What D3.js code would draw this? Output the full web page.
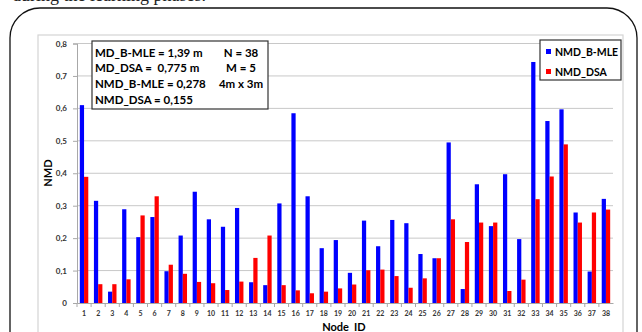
<!DOCTYPE html>
<html>
<head>
<meta charset="utf-8">
<script src="https://cdn.jsdelivr.net/npm/d3@7"></script>
<style>
  html, body { margin: 0; padding: 0; background: #fff; }
  svg { display: block; }
</style>
</head>
<body>
<figure id="chart" style="margin:0"></figure>
<script>
// node ids along the x axis
const nodes = ["1","2","3","4","5","6","7","8","9","10","11","12","13","14","15","16","17","18","19",
  "20","21","22","23","24","25","26","27","28","29","30","31","32","33","34","35","36","37","38"];

// NMD per node
const nmdBMLE = [0.610, 0.315, 0.035, 0.289, 0.203, 0.265, 0.098, 0.208, 0.343, 0.258,
  0.235, 0.293, 0.064, 0.055, 0.307, 0.585, 0.329, 0.169, 0.194, 0.093,
  0.254, 0.175, 0.256, 0.246, 0.151, 0.138, 0.495, 0.043, 0.366, 0.237,
  0.397, 0.197, 0.743, 0.561, 0.597, 0.279, 0.097, 0.321];
const nmdDSA = [0.389, 0.058, 0.058, 0.073, 0.270, 0.329, 0.118, 0.090, 0.065, 0.061,
  0.040, 0.066, 0.139, 0.208, 0.055, 0.039, 0.030, 0.035, 0.045, 0.057,
  0.101, 0.103, 0.083, 0.047, 0.076, 0.138, 0.258, 0.188, 0.248, 0.248,
  0.037, 0.072, 0.320, 0.390, 0.489, 0.248, 0.279, 0.288];

const seriesNames = ["NMD_B-MLE", "NMD_DSA"];
const seriesColors = ["#0000ff", "#ff0000"];
const yTicks = [0, 0.1, 0.2, 0.3, 0.4, 0.5, 0.6, 0.7, 0.8];

// text of the info box: left column, right column
const infoLeft = ["MD_B-MLE = 1,39 m", "MD_DSA =  0,775 m", "NMD_B-MLE = 0,278", "NMD_DSA = 0,155"];
const infoRight = ["N = 38", "M = 5", "4m x 3m"];

const width = 642, height = 332;
const plot = { left: 77, right: 613, top: 43.5, bottom: 303 };

const svg = d3.select("figure#chart")
  .append("svg")
  .attr("width", width)
  .attr("height", height);

// caption of the page above, cut off at the top edge
svg.append("text")
  .attr("x", 12).attr("y", 0.5)
  .style("font", "18px 'Liberation Serif', serif")
  .attr("fill", "#222")
  .text("during the learning phases.");

// rounded figure frame
svg.append("path")
  .attr("d", "M10,340 L10,38 A30,30 0 0 1 40,8 L607,8 A30,30 0 0 1 637,38 L637,340")
  .attr("fill", "none")
  .attr("stroke", "#111")
  .attr("stroke-width", 1.3);

// chart area border
svg.append("rect")
  .attr("x", 38).attr("y", 35)
  .attr("width", 585).attr("height", 400)
  .attr("fill", "none")
  .attr("stroke", "#d4d4d4")
  .attr("stroke-width", 1.2);

const y = d3.scaleLinear()
  .domain([0, 0.8])
  .range([plot.bottom, plot.top]);

const x = d3.scaleBand()
  .domain(nodes)
  .range([plot.left, plot.right])
  .paddingInner(0.4)
  .paddingOuter(0.2);

const xs = d3.scaleBand()
  .domain(seriesNames)
  .range([0, x.bandwidth()]);

// gridlines
svg.append("g")
  .selectAll("line")
  .data(yTicks.filter(d => d > 0))
  .enter()
  .append("line")
  .attr("x1", plot.left).attr("x2", plot.right)
  .attr("y1", d => y(d)).attr("y2", d => y(d))
  .attr("stroke", "#c8c8c8")
  .attr("stroke-width", 1);

// y axis
const yAxis = svg.append("g")
  .attr("transform", "translate(" + plot.left + ",0)")
  .call(d3.axisLeft(y)
    .tickValues(yTicks)
    .tickSize(4)
    .tickPadding(6)
    .tickFormat(d => d === 0 ? "0" : d3.format(".1f")(d).replace(".", ",")));
yAxis.select(".domain").attr("stroke", "#a8a8a8");
yAxis.selectAll(".tick line").attr("stroke", "#a8a8a8");
yAxis.selectAll("text")
  .style("font", "bold 8px Lato, sans-serif")
  .attr("fill", "#333");

// x axis, ticks between categories
const xAxis = svg.append("g")
  .attr("transform", "translate(0," + plot.bottom + ")")
  .call(d3.axisBottom(x).tickSize(0).tickPadding(8));
xAxis.select(".domain").attr("stroke", "#a8a8a8");
xAxis.selectAll("text")
  .style("font", "bold 7px Lato, sans-serif")
  .attr("fill", "#333");
svg.append("g")
  .selectAll("line")
  .data(nodes)
  .enter()
  .append("line")
  .attr("x1", d => x(d) - x.step() * x.paddingInner() / 2)
  .attr("x2", d => x(d) - x.step() * x.paddingInner() / 2)
  .attr("y1", plot.bottom).attr("y2", plot.bottom + 4)
  .attr("stroke", "#a8a8a8");

// bars
const rows = nodes.map((n, i) => ({ node: n, values: [nmdBMLE[i], nmdDSA[i]] }));
svg.append("g")
  .selectAll("g")
  .data(rows)
  .enter()
  .append("g")
  .attr("transform", d => "translate(" + x(d.node) + ",0)")
  .selectAll("rect")
  .data(d => d.values.map((v, k) => ({ key: seriesNames[k], value: v, color: seriesColors[k] })))
  .enter()
  .append("rect")
  .attr("x", d => xs(d.key))
  .attr("y", d => y(d.value))
  .attr("width", xs.bandwidth())
  .attr("height", d => plot.bottom - y(d.value))
  .attr("fill", d => d.color);

// axis titles
svg.append("text")
  .attr("transform", "translate(52,173) rotate(-90)")
  .attr("text-anchor", "middle")
  .style("font", "bold 11px Lato, sans-serif")
  .text("NMD");
svg.append("text")
  .attr("x", 344).attr("y", 331)
  .attr("text-anchor", "middle")
  .style("font", "bold 11px Lato, sans-serif")
  .text("Node_ID");

// info box
const info = svg.append("g");
info.append("rect")
  .attr("x", 92).attr("y", 41)
  .attr("width", 176).attr("height", 68)
  .attr("fill", "#fff")
  .attr("stroke", "#333")
  .attr("stroke-width", 1.2);
info.selectAll("text.l")
  .data(infoLeft)
  .enter()
  .append("text")
  .attr("x", 95)
  .attr("y", (d, i) => 56.5 + i * 15.9)
  .style("font", "bold 11.5px Lato, sans-serif")
  .attr("xml:space", "preserve")
  .text(d => d);
info.selectAll("text.r")
  .data(infoRight)
  .enter()
  .append("text")
  .attr("x", 241)
  .attr("y", (d, i) => 56.5 + i * 15.9)
  .attr("text-anchor", "middle")
  .style("font", "bold 11.5px Lato, sans-serif")
  .text(d => d);

// legend
const legend = svg.append("g");
legend.append("rect")
  .attr("x", 540).attr("y", 40)
  .attr("width", 81).attr("height", 40)
  .attr("fill", "#fff")
  .attr("stroke", "#333")
  .attr("stroke-width", 1.2);
seriesNames.forEach((name, i) => {
  legend.append("rect")
    .attr("x", 546).attr("y", 49 + i * 20)
    .attr("width", 5).attr("height", 5)
    .attr("fill", seriesColors[i]);
  legend.append("text")
    .attr("x", 555).attr("y", 55.5 + i * 20)
    .style("font", "bold 10.5px Lato, sans-serif")
    .text(name);
});
</script>
</body>
</html>
